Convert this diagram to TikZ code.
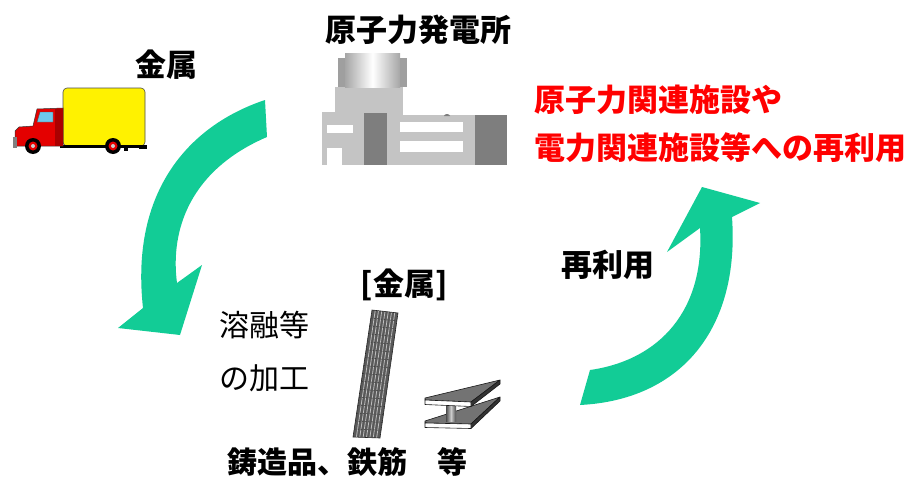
\documentclass[tikz,border=0pt]{standalone}
\usepackage{fontspec}
\newfontfamily\jp{Noto Sans CJK JP}
\usetikzlibrary{calc}
\definecolor{flowgreen}{RGB}{18,204,150}
\definecolor{plantlight}{RGB}{196,196,196}
\definecolor{plantdark}{RGB}{126,126,126}
\definecolor{truckred}{RGB}{228,0,0}
\definecolor{cabdark}{RGB}{170,0,0}
\definecolor{glass}{RGB}{110,200,235}
\begin{document}
\begin{tikzpicture}[x=1pt,y=-1pt,
  lbl/.style={font=\jp\bfseries\fontsize{31}{32}\selectfont, inner sep=0pt, text=black},
  thin lbl/.style={font=\jp\fontsize{30}{31}\selectfont, inner sep=0pt, text=black},
  redlbl/.style={lbl, text=red},
  flow/.style={fill=flowgreen, draw=none},
  wheel/.style={fill=black},
  steelface/.style={draw=black!90, line width=0.6pt, line join=round}]
\useasboundingbox (0,0) rectangle (915,479);

% ---- labels ----
\node[lbl] (plant) at (418,30) {原子力発電所};
\node[lbl] (metal) at (166,65) {金属};
\node[redlbl, anchor=west] (reuse1) at (534,100) {原子力関連施設や};
\node[redlbl, anchor=west] (reuse2) at (534,148) {電力関連施設等への再利用};
\node[lbl] (reuse) at (608,265) {再利用};
\node[thin lbl, anchor=west] (melt1) at (219,325) {溶融等};
\node[thin lbl, anchor=west] (melt2) at (219,378) {の加工};
\node[lbl] (metalb) at (404,285) {[金属]};
\node[lbl, font=\jp\bfseries\fontsize{30}{31}\selectfont, anchor=west] (products) at (227,462) {鋳造品、鉄筋　等};

% ---- curved flow arrows ----
\fill[flow] (265,100) .. controls (190,125) and (130,190) .. (143,308)
  -- (118,328) -- (180,335) -- (202,265) -- (177,283)
  .. controls (170,230) and (190,170) .. (267,137) -- cycle;
\fill[flow] (580,405) .. controls (680,400) and (740,330) .. (732,217)
  -- (760,203) -- (702,187) -- (667,252) -- (700,228)
  .. controls (705,310) and (660,360) .. (590,370) -- cycle;

% ---- truck ----
\draw[fill=yellow, draw=black!70, line width=0.6pt, rounded corners=4pt]
  (63,146) -- (63,88) -- (145,88) -- (145,146) -- cycle;
\fill[black] (60,145) rectangle (147,148);
\fill[black] (124,146) rectangle (128,151);
\fill[black] (139,146) rectangle (147,148.5);
\draw[fill=truckred, draw=black!80, line width=0.5pt]
  (15,146) -- (15,131) -- (19,127) -- (33,126) -- (37,109) -- (63,108) -- (63,146) -- cycle;
\fill[cabdark] (55,108.5) rectangle (62.7,145.5);
\draw[fill=glass, draw=black!70, line width=0.4pt] (40,112) -- (53,112) -- (53,122) -- (37,122) -- cycle;
\fill[gray] (13,137) rectangle (17,148);
\foreach \wx in {33,113} {
  \fill[wheel] (\wx,146) circle (8);
  \fill[truckred] (\wx,146) circle (4.5);
  \fill[gray!40] (\wx,146) circle (2);
}

% ---- power station ----
\fill[plantlight] (322,112) rectangle (364,165);
\fill[plantlight] (335,87) rectangle (403,115);
\fill[plantlight] (387,115) rectangle (476,165);
\fill[plantdark] (364,113) rectangle (387,165);
\fill[plantdark] (475,115) rectangle (507,165);
\shade[left color=gray!70, right color=gray!70, middle color=white] (345,53) rectangle (400,87);
\fill[gray!75] (338,58) rectangle (345,87);
\fill[gray!75] (400,58) rectangle (407,87);
\fill[white] (327,125) rectangle (353,133);
\fill[white] (327,148) rectangle (342,166);
\fill[white] (400,122) rectangle (463,132);
\fill[white] (400,141) rectangle (463,152);
\fill[plantdark] (444,116) arc (180:360:3 and 2) -- cycle;

% ---- rebar bundle ----
\fill[black!65] (372,310) -- (398,313) -- (380,438) -- (353,437) -- cycle;
\foreach \i in {1,...,7} {
  \draw[black!25, line width=0.8pt]
    ($(372,310)!\i/8!(398,313)$) -- ($(353,437)!\i/8!(380,438)$);
}
\foreach \j in {1,...,15} {
  \draw[black!80, line width=0.5pt, dash pattern=on 1.5pt off 1.7pt]
    ($(372,310)!\j/16!(353,437)$) -- ($(398,313)!\j/16!(380,438)$);
}
\draw[black!85, line width=0.6pt] (372,310) -- (398,313) -- (380,438) -- (353,437) -- cycle;

% ---- H-beam: lower flange, web, upper flange ----
\draw[steelface, fill=black!55] (425,421) -- (500,397) -- (471,424) -- (425,423) -- cycle;
\draw[steelface, fill=black!80] (471,424) -- (500,397) -- (500,401) -- (471,428.5) -- cycle;
\draw[steelface, fill=white] (425,423) -- (471,424) -- (471,428.5) -- (425,427.5) -- cycle;
\shade[left color=black!70, right color=black!70, middle color=black!20] (446,405) rectangle (456,421);
\draw[steelface, fill=black!55] (425,398) -- (500,380) -- (471,402) -- (425,400) -- cycle;
\draw[steelface, fill=black!80] (471,402) -- (500,380) -- (500,384) -- (471,406.5) -- cycle;
\draw[steelface, fill=white] (425,400) -- (471,402) -- (471,406.5) -- (425,404.5) -- cycle;
\end{tikzpicture}
\end{document}
